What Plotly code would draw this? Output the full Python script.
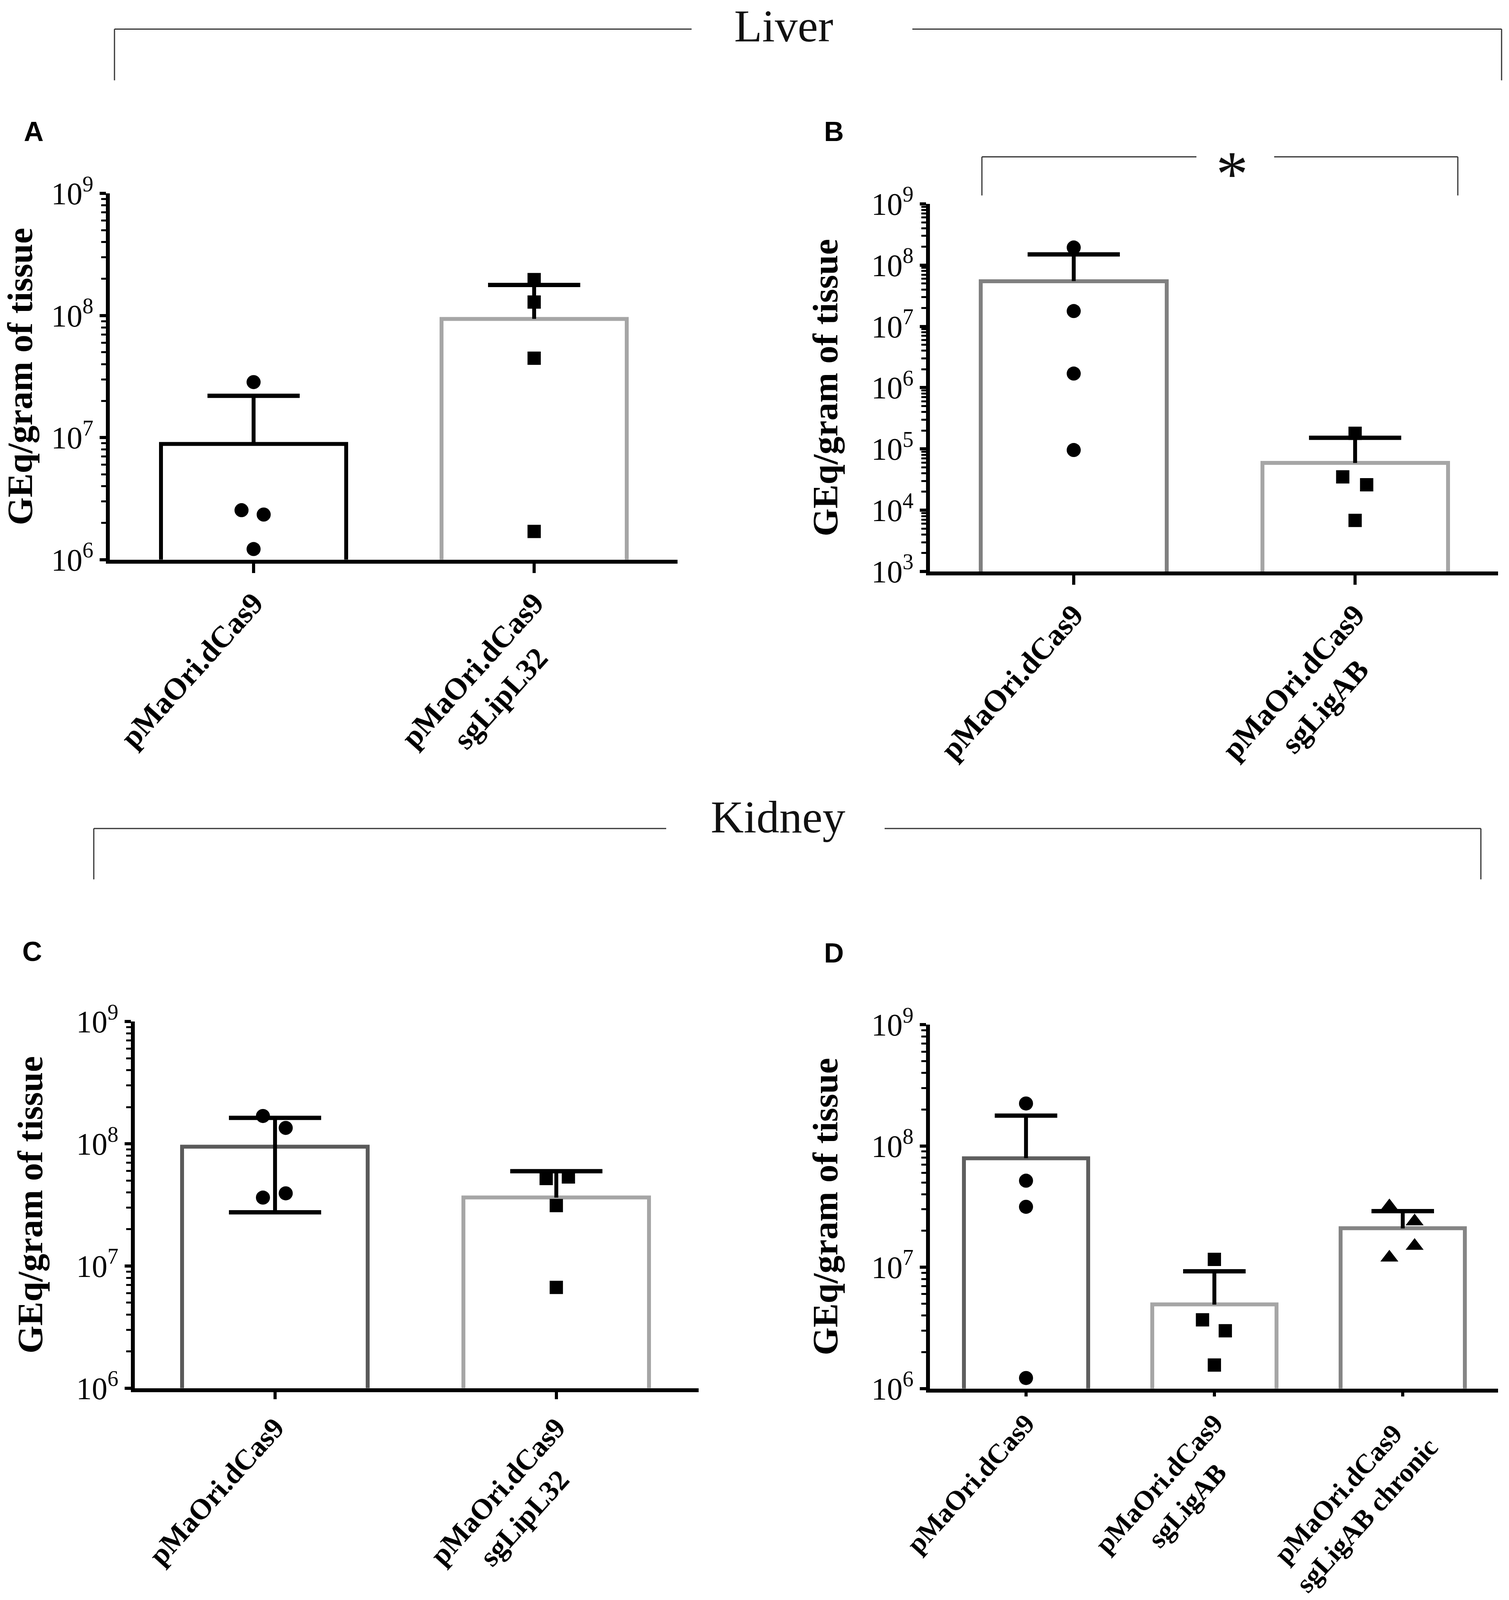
import plotly.graph_objects as go

# ---------------- data ----------------
A_LABELS = ["pMaOri.dCas9", "pMaOri.dCas9<br>sgLipL32"]
A_MEAN = [8.85e6, 9.4e7]
A_UPPER = [2.2e7, 1.78e8]
A_LOWER = [None, None]
A_POINTS = [[2.85e7, 2.54e6, 2.34e6, 1.22e6],
            [1.97e8, 1.29e8, 4.47e7, 1.7e6]]

B_LABELS = ["pMaOri.dCas9", "pMaOri.dCas9<br>sgLigAB"]
B_MEAN = [5.5e7, 5.9e4]
B_UPPER = [1.5e8, 1.52e5]
B_LOWER = [None, None]
B_POINTS = [[1.94e8, 1.78e7, 1.7e6, 9.6e4],
            [1.8e5, 3.5e4, 2.6e4, 6.8e3]]

C_LABELS = ["pMaOri.dCas9", "pMaOri.dCas9<br>sgLipL32"]
C_MEAN = [9.47e7, 3.63e7]
C_UPPER = [1.63e8, 5.97e7]
C_LOWER = [2.75e7, None]
C_POINTS = [[1.69e8, 1.35e8, 3.93e7, 3.63e7],
            [5.2e7, 5.35e7, 3.12e7, 6.67e6]]

D_LABELS = ["pMaOri.dCas9", "pMaOri.dCas9<br>sgLigAB", "pMaOri.dCas9<br>sgLigAB chronic"]
D_MEAN = [7.94e7, 4.92e6, 2.09e7]
D_UPPER = [1.78e8, 9.25e6, 2.9e7]
D_LOWER = [None, None, None]
D_POINTS = [[2.24e8, 5.17e7, 3.15e7, 1.22e6],
            [1.16e7, 3.68e6, 2.99e6, 1.56e6],
            [3.18e7, 2.39e7, 1.5e7, 1.2e7]]

YTICKS_6_9 = [1e6, 1e7, 1e8, 1e9]
YTICKTEXT_6_9 = ["10<sup>6</sup>", "10<sup>7</sup>", "10<sup>8</sup>", "10<sup>9</sup>"]
YTICKS_3_9 = [1e3, 1e4, 1e5, 1e6, 1e7, 1e8, 1e9]
YTICKTEXT_3_9 = ["10<sup>3</sup>", "10<sup>4</sup>", "10<sup>5</sup>", "10<sup>6</sup>",
                 "10<sup>7</sup>", "10<sup>8</sup>", "10<sup>9</sup>"]
Y_TITLE = "GEq/gram of tissue"

# ---------------- style ----------------
W, H = 3862, 4183          # reference canvas, used to express positions as paper fractions
SERIF = "Liberation Serif"
SANS = "Liberation Sans"
NBSP = "\u00a0"


def PX(x):
    return x / W


def PY(y):
    return 1 - y / H


def minor_vals(lo, hi):
    # log-axis minor tick positions (2..9 x 10^e)
    return [k * 10 ** e for e in range(lo, hi) for k in range(2, 10)]


def centred(label, pads):
    # rotated multi-line tick labels are right-aligned by plotly; pad lines so they look centred
    lines = label.split("<br>")
    return "<br>".join(line + NBSP * pad for line, pad in zip(lines, pads))


PANELS = [
    dict(key="A", labels=A_LABELS, mean=A_MEAN, upper=A_UPPER, lower=A_LOWER, points=A_POINTS,
         colors=["#000000", "#a6a6a6"], symbols=["circle", "square"],
         jitter=[[0, -0.043, 0.036, 0], [0, 0, 0, 0]], pads=[[0], [0, 5]],
         xdom=[PX(281), PX(1734)], ydom=[PY(1463), PY(506)], xr=[-0.5125, 1.511], yr=[6, 9],
         yt=YTICKS_6_9, ytt=YTICKTEXT_6_9, capw=118, xfont=78, xtl=24),
    dict(key="B", labels=B_LABELS, mean=B_MEAN, upper=B_UPPER, lower=B_LOWER, points=B_POINTS,
         colors=["#808080", "#a6a6a6"], symbols=["circle", "square"],
         jitter=[[0, 0, 0, 0], [0, -0.044, 0.041, 0]], pads=[[0], [0, 5]],
         xdom=[PX(2380), PX(3834)], ydom=[PY(1494), PY(533)], xr=[-0.511, 1.508], yr=[3, 9],
         yt=YTICKS_3_9, ytt=YTICKTEXT_3_9, capw=118, xfont=78, xtl=24),
    dict(key="C", labels=C_LABELS, mean=C_MEAN, upper=C_UPPER, lower=C_LOWER, points=C_POINTS,
         colors=["#5a5a5a", "#a6a6a6"], symbols=["circle", "square"],
         jitter=[[-0.043, 0.038, 0.038, -0.043], [-0.036, 0.043, 0, 0]], pads=[[0], [0, 5]],
         xdom=[PX(345), PX(1788)], ydom=[PY(3629), PY(2671)], xr=[-0.4986, 1.506], yr=[6, 9],
         yt=YTICKS_6_9, ytt=YTICKTEXT_6_9, capw=118, xfont=74, xtl=18),
    dict(key="D", labels=D_LABELS, mean=D_MEAN, upper=D_UPPER, lower=D_LOWER, points=D_POINTS,
         colors=["#5f5f5f", "#a6a6a6", "#858585"], symbols=["circle", "square", "triangle-up"],
         jitter=[[0, 0, 0, 0], [0, -0.063, 0.058, 0], [-0.071, 0.063, 0.063, -0.071]],
         pads=[[0], [0, 5], [2, 0]],
         xdom=[PX(2380), PX(3834)], ydom=[PY(3630), PY(2679)], xr=[-0.51, 2.506], yr=[6, 9],
         yt=YTICKS_6_9, ytt=YTICKTEXT_6_9, capw=80, xfont=70, xtl=10),
]

MARKER_SIZE = {"circle": 36, "square": 34, "triangle-up": 40}

fig = go.Figure()
layout = {}

for n, p in enumerate(PANELS, start=1):
    xa = "x" if n == 1 else f"x{n}"
    ya = "y" if n == 1 else f"y{n}"
    idx = list(range(len(p["labels"])))

    # bars
    fig.add_trace(go.Bar(
        x=idx, y=p["mean"], width=0.66, xaxis=xa, yaxis=ya, showlegend=False,
        marker=dict(color="white", line=dict(color=p["colors"], width=10)),
        hoverinfo="skip"))

    # error stems
    fig.add_trace(go.Scatter(
        x=idx, y=p["mean"], mode="markers", xaxis=xa, yaxis=ya, showlegend=False,
        marker=dict(size=0, opacity=0),
        error_y=dict(type="data", symmetric=False,
                     array=[u - m for u, m in zip(p["upper"], p["mean"])],
                     arrayminus=[(m - l) if l is not None else 0 for m, l in zip(p["mean"], p["lower"])],
                     width=0, thickness=10, color="black"),
        hoverinfo="skip"))

    # error caps
    cx, cy = [], []
    for i, (u, l) in enumerate(zip(p["upper"], p["lower"])):
        cx.append(i)
        cy.append(u)
        if l is not None:
            cx.append(i)
            cy.append(l)
    fig.add_trace(go.Scatter(
        x=cx, y=cy, mode="markers", xaxis=xa, yaxis=ya, showlegend=False,
        marker=dict(size=0, opacity=0),
        error_y=dict(type="data", array=[0] * len(cy), width=p["capw"], thickness=11, color="black"),
        hoverinfo="skip"))

    # individual points
    for i, pts in enumerate(p["points"]):
        sym = p["symbols"][i]
        fig.add_trace(go.Scatter(
            x=[i + o for o in p["jitter"][i]], y=pts, mode="markers",
            xaxis=xa, yaxis=ya, showlegend=False,
            marker=dict(symbol=sym, size=MARKER_SIZE[sym], color="black", line=dict(width=0))))

    xkey = "xaxis" if n == 1 else f"xaxis{n}"
    ykey = "yaxis" if n == 1 else f"yaxis{n}"
    layout[xkey] = dict(
        domain=p["xdom"], range=p["xr"], anchor=ya, automargin=False,
        tickmode="array", tickvals=idx,
        ticktext=[centred(lab, pad) for lab, pad in zip(p["labels"], p["pads"])],
        tickangle=-48,
        ticks="outside", ticklen=p["xtl"], tickwidth=8, tickcolor="black",
        showline=True, linewidth=10, linecolor="black",
        showgrid=False, zeroline=False,
        tickfont=dict(family=SERIF, size=p["xfont"], color="black", weight="bold"))
    layout[ykey] = dict(
        domain=p["ydom"], type="log", range=p["yr"], anchor=xa, automargin=False,
        tickmode="array", tickvals=p["yt"], ticktext=p["ytt"],
        ticks="outside", ticklen=16, tickwidth=8, tickcolor="black",
        minor=dict(tickmode="array", tickvals=minor_vals(p["yr"][0], p["yr"][1]),
                   ticks="outside", ticklen=12, tickwidth=5, tickcolor="black", showgrid=False),
        showline=True, linewidth=10, linecolor="black",
        showgrid=False, zeroline=False,
        tickfont=dict(family=SERIF, size=80, color="black"),
        title=dict(text=Y_TITLE, standoff=60,
                   font=dict(family=SERIF, size=92, color="black", weight="bold")))

# ---------------- annotations & brackets ----------------
LINE = dict(color="#333333", width=3)
shapes = [
    # Liver bracket
    dict(type="line", xref="paper", yref="paper", x0=PX(293), x1=PX(1770), y0=PY(76), y1=PY(76), line=LINE),
    dict(type="line", xref="paper", yref="paper", x0=PX(2335), x1=PX(3843), y0=PY(76), y1=PY(76), line=LINE),
    dict(type="line", xref="paper", yref="paper", x0=PX(293), x1=PX(293), y0=PY(76), y1=PY(210), line=LINE),
    dict(type="line", xref="paper", yref="paper", x0=PX(3843), x1=PX(3843), y0=PY(76), y1=PY(210), line=LINE),
    # Kidney bracket
    dict(type="line", xref="paper", yref="paper", x0=PX(240), x1=PX(1705), y0=PY(2166), y1=PY(2166), line=LINE),
    dict(type="line", xref="paper", yref="paper", x0=PX(2264), x1=PX(3790), y0=PY(2166), y1=PY(2166), line=LINE),
    dict(type="line", xref="paper", yref="paper", x0=PX(240), x1=PX(240), y0=PY(2166), y1=PY(2299), line=LINE),
    dict(type="line", xref="paper", yref="paper", x0=PX(3790), x1=PX(3790), y0=PY(2166), y1=PY(2299), line=LINE),
    # significance bracket in B
    dict(type="line", xref="paper", yref="paper", x0=PX(2513), x1=PX(3062), y0=PY(410), y1=PY(410), line=LINE),
    dict(type="line", xref="paper", yref="paper", x0=PX(3261), x1=PX(3731), y0=PY(410), y1=PY(410), line=LINE),
    dict(type="line", xref="paper", yref="paper", x0=PX(2513), x1=PX(2513), y0=PY(410), y1=PY(511), line=LINE),
    dict(type="line", xref="paper", yref="paper", x0=PX(3731), x1=PX(3731), y0=PY(410), y1=PY(511), line=LINE),
]

annotations = [
    dict(text="Liver", x=PX(2005), y=1, yanchor="top",
         font=dict(family=SERIF, size=117, color="#111111")),
    dict(text="Kidney", x=PX(1991), y=PY(2136), yanchor="middle",
         font=dict(family=SERIF, size=117, color="#111111")),
    dict(text="*", x=PX(3153), y=PY(455), yanchor="middle",
         font=dict(family=SERIF, size=165, color="#111111")),
    dict(text="<b>A</b>", x=PX(86), y=PY(344), yanchor="middle", font=dict(family=SANS, size=70, color="black")),
    dict(text="<b>B</b>", x=PX(2134), y=PY(344), yanchor="middle", font=dict(family=SANS, size=70, color="black")),
    dict(text="<b>C</b>", x=PX(82), y=PY(2488), yanchor="middle", font=dict(family=SANS, size=70, color="black")),
    dict(text="<b>D</b>", x=PX(2134), y=PY(2492), yanchor="middle", font=dict(family=SANS, size=70, color="black")),
]
for a in annotations:
    a.update(xref="paper", yref="paper", showarrow=False, xanchor="center")

fig.update_layout(
    autosize=True, margin=dict(l=0, r=0, t=0, b=0, autoexpand=False),
    paper_bgcolor="white", plot_bgcolor="white",
    showlegend=False, bargap=0,
    shapes=shapes, annotations=annotations,
    **layout)

# fill the browser window exactly (no body margin, no scrollbars)
FIT_WINDOW = (
    "document.documentElement.style.margin='0';"
    "document.body.style.margin='0';"
    "document.body.style.overflow='hidden';"
    "var gd=document.getElementById('{plot_id}');"
    "gd.style.width='100vw';gd.style.height='100vh';"
    "Plotly.Plots.resize(gd);"
)

fig.write_html("out.html", default_width="100vw", default_height="100vh",
               config={"responsive": True, "displayModeBar": False}, post_script=FIT_WINDOW)
